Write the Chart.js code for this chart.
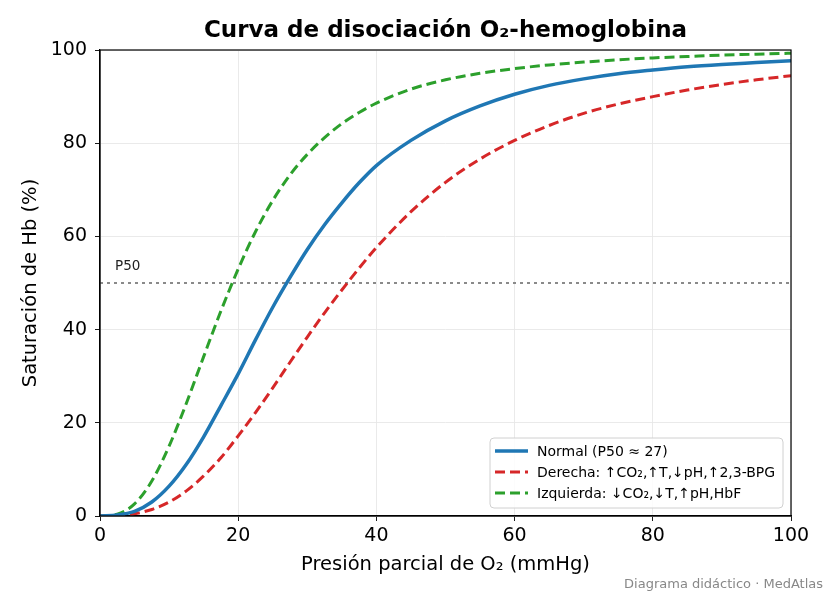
<!DOCTYPE html>
<html lang="es">
<head>
<meta charset="utf-8">
<title>Curva de disociación O₂-hemoglobina</title>
<script src="https://cdn.jsdelivr.net/npm/chart.js@4.4.1/dist/chart.umd.min.js"></script>
<style>
    html, body { margin: 0; padding: 0; background: #fff; }
    #contenedor { width: 832px; height: 598px; position: relative; }
</style>
</head>
<body>
<div id="contenedor"><canvas id="grafico"></canvas></div>
<script>
// Valores (PO2 en mmHg, saturación en %)
const presion      = [0, 2.5, 5, 7.5, 10, 12.5, 15, 17.5, 20, 22.5, 25, 27.5, 30, 32.5, 35, 37.5, 40, 45, 50, 55, 60, 65, 70, 75, 80, 85, 90, 95, 100];
const satNormal    = [0, 0.2, 1.0, 3.0, 6.4, 11.1, 17.0, 23.7, 30.5, 37.8, 44.8, 51.2, 57.2, 62.5, 67.2, 71.5, 75.2, 80.6, 84.8, 88.0, 90.5, 92.4, 93.8, 94.9, 95.7, 96.4, 96.9, 97.3, 97.7];
const satDerecha   = [0, 0.1, 0.5, 1.4, 3.0, 5.4, 8.6, 12.5, 17.2, 22.2, 27.5, 33.0, 38.4, 43.6, 48.5, 53.2, 57.6, 65.3, 71.6, 76.6, 80.6, 83.8, 86.4, 88.4, 90.0, 91.4, 92.6, 93.6, 94.5];
const satIzquierda = [0, 0.4, 2.6, 7.5, 15.0, 24.2, 34.2, 44.0, 53.0, 61.0, 67.7, 73.2, 77.6, 81.2, 84.2, 86.6, 88.6, 91.6, 93.6, 95.0, 96.0, 96.8, 97.4, 97.9, 98.3, 98.6, 98.9, 99.1, 99.3];
const valorP50 = 50;

const etiquetas = [
    'Normal (P50 ≈ 27)',
    'Derecha: ↑CO₂,↑T,↓pH,↑2,3-BPG',
    'Izquierda: ↓CO₂,↓T,↑pH,HbF'
];
const titulo = 'Curva de disociación O₂-hemoglobina';
const tituloX = 'Presión parcial de O₂ (mmHg)';
const tituloY = 'Saturación de Hb (%)';
const pie = 'Diagrama didáctico · MedAtlas';

const fuente = "'DejaVu Sans', sans-serif";
Chart.defaults.font.family = fuente;
Chart.defaults.color = '#000';

function aPuntos(valores) {
    return presion.map((p, i) => ({ x: p, y: valores[i] }));
}

// Título, textos de ejes, pie, etiqueta P50 y leyenda
const pluginTextos = {
    id: 'textos',
    afterDraw(chart) {
        const ctx = chart.ctx;
        const area = chart.chartArea;
        const escY = chart.scales.y;
        const centroX = (area.left + area.right) / 2;

        ctx.save();
        ctx.strokeStyle = '#000';
        ctx.lineWidth = 1.2;
        ctx.strokeRect(area.left, area.top, area.right - area.left, area.bottom - area.top);

        ctx.fillStyle = '#000';
        ctx.textAlign = 'center';
        ctx.textBaseline = 'middle';
        ctx.font = `bold 23px ${fuente}`;
        ctx.fillText(titulo, centroX, 31);

        ctx.font = `19.5px ${fuente}`;
        ctx.fillText(tituloX, centroX, 565);
        ctx.save();
        ctx.translate(31, (area.top + area.bottom) / 2);
        ctx.rotate(-Math.PI / 2);
        ctx.fillText(tituloY, 0, 0);
        ctx.restore();

        ctx.textAlign = 'right';
        ctx.fillStyle = '#888';
        ctx.font = `13px ${fuente}`;
        ctx.fillText(pie, 823, 585);

        ctx.textAlign = 'left';
        ctx.textBaseline = 'alphabetic';
        ctx.fillStyle = '#222';
        ctx.font = `13.5px ${fuente}`;
        ctx.fillText('P50', area.left + 15, escY.getPixelForValue(valorP50) - 13);

        // leyenda abajo a la derecha
        const anchoCaja = 293, altoCaja = 70;
        const cx = area.right - 8 - anchoCaja;
        const cy = area.bottom - 8 - altoCaja;
        ctx.beginPath();
        ctx.roundRect(cx, cy, anchoCaja, altoCaja, 4);
        ctx.fillStyle = 'rgba(255,255,255,0.85)';
        ctx.fill();
        ctx.strokeStyle = '#d0d0d0';
        ctx.lineWidth = 1;
        ctx.stroke();

        ctx.font = `14px ${fuente}`;
        ctx.textBaseline = 'middle';
        chart.data.datasets.slice(0, 3).forEach((ds, i) => {
            const y = cy + 13 + i * 21;
            ctx.beginPath();
            ctx.strokeStyle = ds.borderColor;
            ctx.lineWidth = ds.borderWidth;
            ctx.setLineDash(ds.borderDash || []);
            ctx.moveTo(cx + 5, y);
            ctx.lineTo(cx + 38, y);
            ctx.stroke();
            ctx.setLineDash([]);
            ctx.fillStyle = '#000';
            ctx.fillText(ds.label, cx + 47, y + 1);
        });
        ctx.restore();
    }
};

const grafico = new Chart(document.getElementById('grafico'), {
    type: 'line',
    data: {
        datasets: [
            {
                label: etiquetas[0],
                data: aPuntos(satNormal),
                borderColor: '#1f77b4',
                borderWidth: 3.5,
                cubicInterpolationMode: 'monotone',
                pointRadius: 0
            },
            {
                label: etiquetas[1],
                data: aPuntos(satDerecha),
                borderColor: '#d62728',
                borderWidth: 3,
                borderDash: [10, 5],
                cubicInterpolationMode: 'monotone',
                pointRadius: 0
            },
            {
                label: etiquetas[2],
                data: aPuntos(satIzquierda),
                borderColor: '#2ca02c',
                borderWidth: 3,
                borderDash: [10, 5],
                cubicInterpolationMode: 'monotone',
                pointRadius: 0
            },
            {
                label: 'P50',
                data: [{ x: presion[0], y: valorP50 }, { x: presion[presion.length - 1], y: valorP50 }],
                borderColor: '#8a8a8a',
                borderWidth: 2,
                borderDash: [3, 4],
                pointRadius: 0
            }
        ]
    },
    options: {
        responsive: true,
        maintainAspectRatio: false,
        animation: false,
        layout: { padding: { top: 50, right: 41, left: 0, bottom: 0 } },
        plugins: {
            legend: { display: false },
            tooltip: { enabled: false },
            title: { display: false }
        },
        scales: {
            x: {
                type: 'linear',
                min: 0,
                max: 100,
                afterFit: escala => { escala.height = 82; },
                ticks: { stepSize: 20, font: { size: 19 }, padding: 4, maxRotation: 0 },
                grid: { color: '#e8e8e8', lineWidth: 0.9, tickColor: '#000', tickLength: 5 },
                border: { color: '#000', width: 1.2 }
            },
            y: {
                min: 0,
                max: 100,
                afterFit: escala => { escala.width = 100; },
                ticks: { stepSize: 20, font: { size: 19 }, padding: 8 },
                grid: { color: '#e8e8e8', lineWidth: 0.9, tickColor: '#000', tickLength: 5 },
                border: { color: '#000', width: 1.2 }
            }
        }
    },
    plugins: [pluginTextos]
});
</script>
</body>
</html>
